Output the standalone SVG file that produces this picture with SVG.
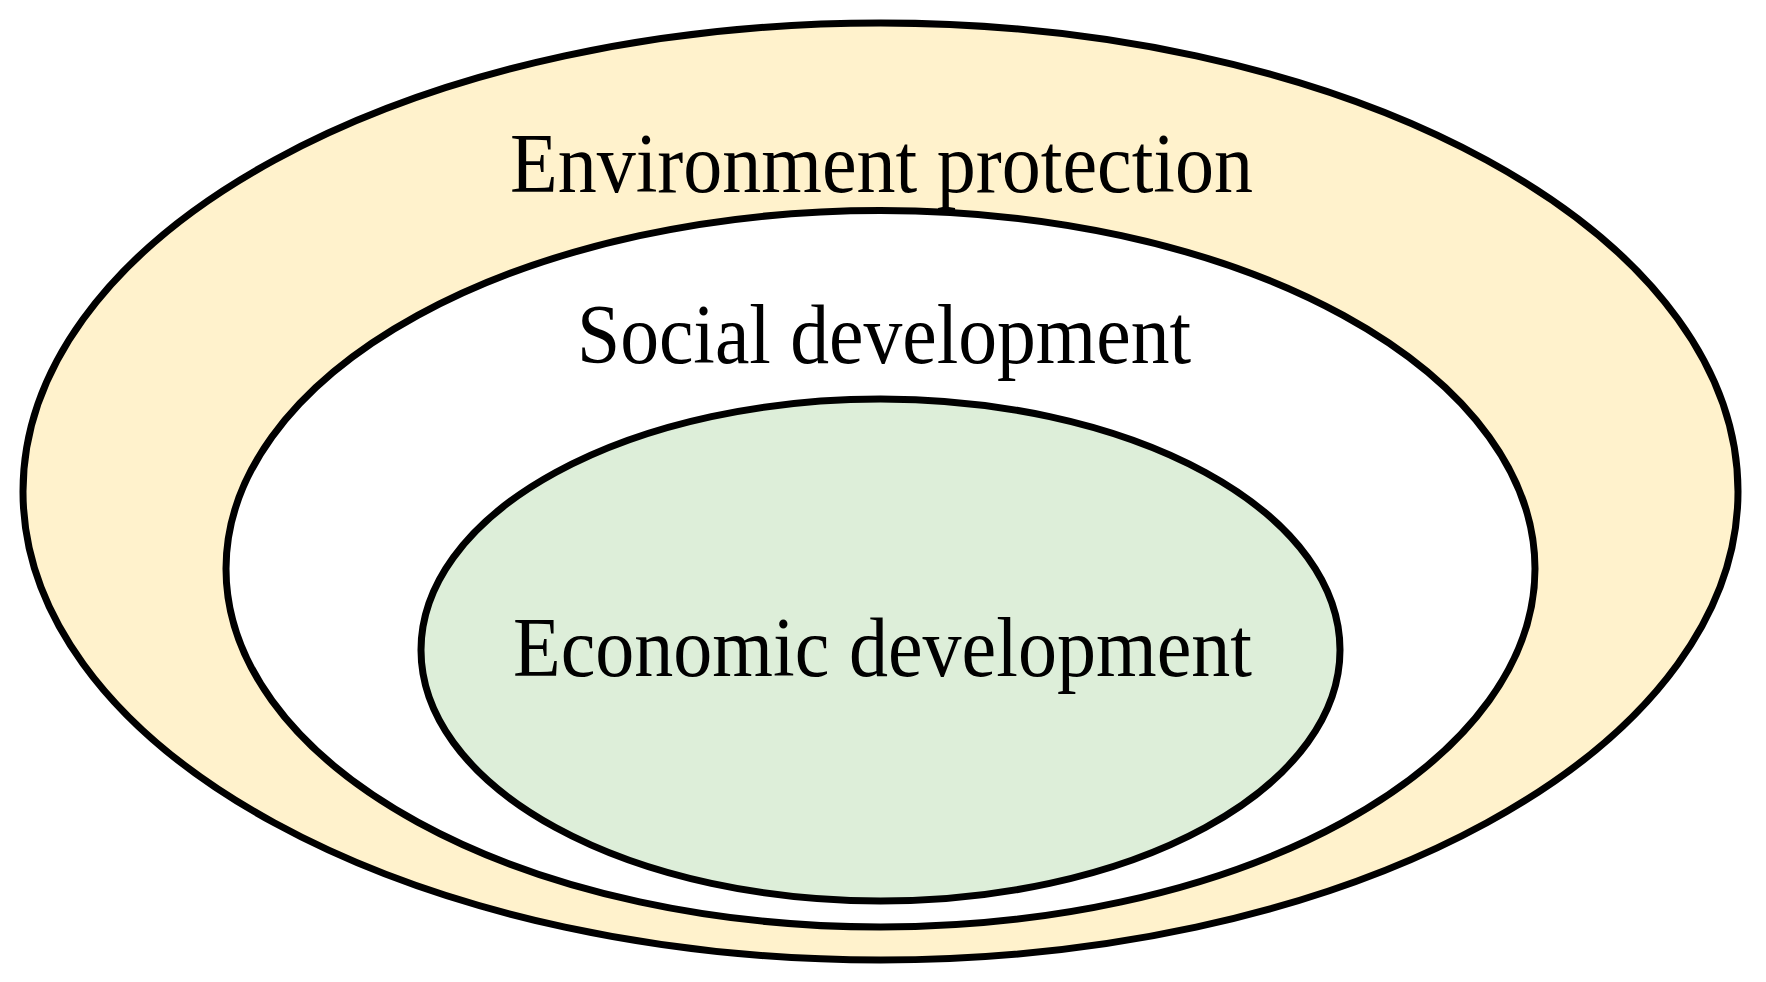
<svg xmlns="http://www.w3.org/2000/svg" width="1766" height="982" viewBox="0 0 1766 982">
<style>
.ring{stroke:#000;stroke-width:7}
.lbl{font-family:"Liberation Serif","Times New Roman",serif;font-size:85px;fill:#000}
</style>
<rect width="1766" height="982" fill="#fff"/>
<g id="environment">
<ellipse class="ring" cx="880.5" cy="491.5" rx="857.5" ry="468.5" fill="#FFF2CC"/>
<text class="lbl" x="510" y="192" textLength="743" lengthAdjust="spacingAndGlyphs">Environment protection</text>
</g>
<g id="social">
<ellipse class="ring" cx="880.5" cy="568.75" rx="654.5" ry="358.25" fill="#FFFFFF"/>
<text class="lbl" x="577" y="363" textLength="614" lengthAdjust="spacingAndGlyphs">Social development</text>
</g>
<g id="economic">
<ellipse class="ring" cx="880.5" cy="650" rx="459.5" ry="251" fill="#DDEED9"/>
<text class="lbl" x="513" y="676" textLength="739" lengthAdjust="spacingAndGlyphs">Economic development</text>
</g>
<g id="connectors"></g>
</svg>
